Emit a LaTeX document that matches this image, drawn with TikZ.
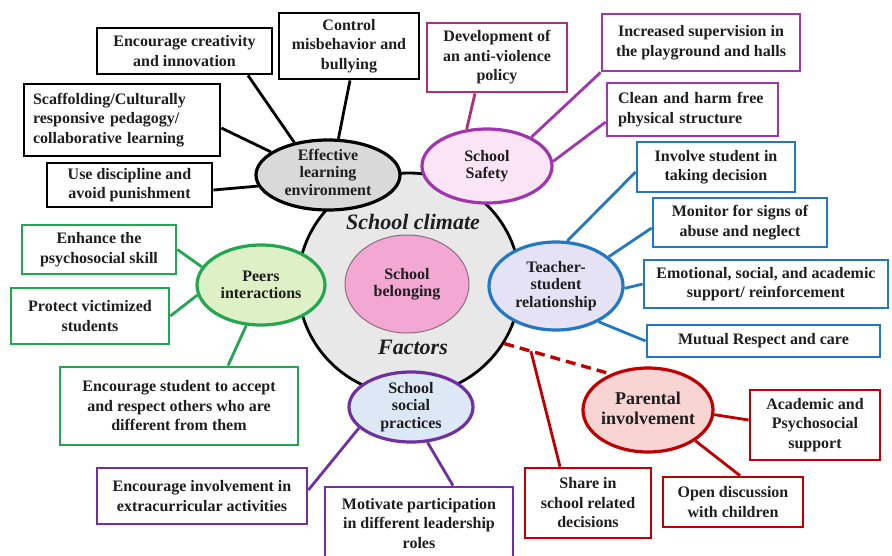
\documentclass[tikz,border=0pt]{standalone}
\usepackage{fontspec}
\setmainfont{Liberation Serif}
\usetikzlibrary{calc,shapes.geometric}

\definecolor{txt}{HTML}{1E1E1E}
\definecolor{climfill}{HTML}{E8E8E8}
\definecolor{belfill}{HTML}{F2A8D3}
\definecolor{beldraw}{HTML}{8C6C80}
\definecolor{elefill}{HTML}{D9D9D9}
\definecolor{safdraw}{HTML}{A035B0}
\definecolor{saffill}{HTML}{FBE4F6}
\definecolor{devdraw}{HTML}{B02E78}
\definecolor{tsrdraw}{HTML}{2378C3}
\definecolor{tsrfill}{HTML}{E5E2F6}
\definecolor{peerdraw}{HTML}{22A650}
\definecolor{peerfill}{HTML}{DDF0C6}
\definecolor{sspdraw}{HTML}{7030A0}
\definecolor{sspfill}{HTML}{DCE8F6}
\definecolor{pardraw}{HTML}{C00000}
\definecolor{parfill}{HTML}{F8D5D2}

\tikzset{
  box/.style={draw, line width=2.8pt, fill=white, align=center, inner sep=2pt,
    text=txt, font=\bfseries\fontsize{16}{19.5}\selectfont},
  oval/.style={ellipse, line width=3.2pt, inner sep=0pt},
  ovaltext/.style={align=center, inner sep=0pt, text=txt,
    font=\bfseries\fontsize{16}{17.5}\selectfont},
  link/.style={line width=2.8pt},
  climtext/.style={inner sep=0pt, text=txt,
    font=\bfseries\itshape\fontsize{22}{24}\selectfont},
}

\begin{document}
\begin{tikzpicture}[x=1pt,y=-1pt]
\useasboundingbox (0,0) rectangle (892,555);

% central school-climate disc and its core
\node[circle, draw=black, line width=2.8pt, fill=climfill, minimum size=222, inner sep=0pt] (circ) at (409,284) {};
\node[oval, draw=beldraw, line width=1pt, fill=belfill, minimum width=124, minimum height=98] (bel) at (407,284) {};
\node[ovaltext] (bel-t) at (bel) {School\\belonging};
\node[climtext] (clim) at (413,222) {School climate};
\node[climtext] (fact) at (413,347) {Factors};

% factor ellipses
\node[oval, draw=black, fill=elefill, minimum width=144, minimum height=70] (ele) at (328,175) {};
\node[oval, draw=safdraw, fill=saffill, minimum width=130, minimum height=74] (saf) at (487,166) {};
\node[oval, draw=tsrdraw, fill=tsrfill, minimum width=134, minimum height=88] (tsr) at (556,286) {};
\node[oval, draw=peerdraw, fill=peerfill, minimum width=128, minimum height=80] (peer) at (261,285) {};
\node[oval, draw=sspdraw, fill=sspfill, minimum width=124, minimum height=70] (ssp) at (411,407) {};
\node[oval, draw=pardraw, fill=parfill, minimum width=130, minimum height=84] (par) at (648,410) {};

\node[ovaltext] (ele-t) at (328,172) {Effective\\learning\\environment};
\node[ovaltext] (saf-t) at (487,166) {School\\Safety};
\node[ovaltext] (tsr-t) at (556,286) {Teacher-\\student\\relationship};
\node[ovaltext] (peer-t) at (261,285) {Peers\\interactions};
\node[ovaltext] (ssp-t) at (411,407) {School\\social\\practices};
\node[ovaltext, font=\bfseries\fontsize{18}{20}\selectfont] (par-t) at (648,408) {Parental\\involvement};

% effective learning environment
\node[box, draw=black, minimum width=175, minimum height=46] (b1) at (184.5,51) {Encourage creativity\\and innovation};
\node[box, draw=black, minimum width=140, minimum height=66] (b2) at (349,46) {Control\\misbehavior and\\bullying};
\node[box, draw=black, align=left, inner xsep=9pt, text width=178, minimum height=72] (b3) at (122,120) {Scaffolding/Culturally\\responsive pedagogy/\\collaborative learning};
\node[box, draw=black, minimum width=165, minimum height=44] (b4) at (129.5,185) {Use discipline and\\avoid punishment};

% school safety
\node[box, draw=devdraw, minimum width=140, minimum height=69] (s1) at (497,57.5) {Development of\\an anti-violence\\policy};
\node[box, draw=safdraw, minimum width=198, minimum height=57] (s2) at (701,42.5) {Increased supervision in\\the playground and halls};
\node[box, draw=safdraw, align=left, inner xsep=11pt, text width=149, minimum height=53] (s3) at (692.5,109.5) {Clean and harm free\\physical structure};

% teacher-student relationship
\node[box, draw=tsrdraw, minimum width=158, minimum height=50] (t1) at (716,167) {Involve student in\\taking decision};
\node[box, draw=tsrdraw, minimum width=174, minimum height=49] (t2) at (740,222.5) {Monitor for signs of\\abuse and neglect};
\node[box, draw=tsrdraw, minimum width=244, minimum height=48] (t3) at (766,284) {Emotional, social, and academic\\support/ reinforcement};
\node[box, draw=tsrdraw, minimum width=233, minimum height=32] (t4) at (763.5,341) {Mutual Respect and care};

% peers interactions
\node[box, draw=peerdraw, minimum width=154, minimum height=49] (p1) at (99,249.5) {Enhance the\\psychosocial skill};
\node[box, draw=peerdraw, minimum width=158, minimum height=56] (p2) at (90,316) {Protect victimized\\students};
\node[box, draw=peerdraw, minimum width=238, minimum height=78] (p3) at (179,406) {Encourage student to accept\\and respect others who are\\different from them};

% school social practices
\node[box, draw=sspdraw, minimum width=210, minimum height=56] (c1) at (202,496) {Encourage involvement in\\extracurricular activities};
\node[box, draw=sspdraw, minimum width=188, minimum height=73] (c2) at (419,523.5) {Motivate participation\\in different leadership\\roles};

% parental involvement
\node[box, draw=pardraw, minimum width=130, minimum height=70] (r1) at (815,425) {Academic and\\Psychosocial\\support};
\node[box, draw=pardraw, minimum width=126, minimum height=70] (r2) at (588,503) {Share in\\school related\\decisions};
\node[box, draw=pardraw, minimum width=140, minimum height=50] (r3) at (733,502) {Open discussion\\with children};

% connectors
\draw[link, black] ([xshift=63.5pt]b1.south) -- (ele.136);
\draw[link, black] ([xshift=1pt]b2.south) -- (ele.74);
\draw[link, black] ([yshift=-8pt]b3.east) -- (ele.158);
\draw[link, black] ([yshift=-5pt]b4.east) -- (ele.189);

\draw[link, devdraw] ([xshift=-22pt]s1.south) -- (saf.119);
\draw[link, safdraw] (s2.south west) -- (saf.33);
\draw[link, safdraw] ([yshift=-12.5pt]s3.west) -- (saf.4);

\draw[link, tsrdraw] ([yshift=-5pt]t1.west) -- (tsr.76);
\draw[link, tsrdraw] ([yshift=-5.5pt]t2.west) -- (tsr.29);
\draw[link, tsrdraw] (t3.west) -- (tsr.-2);
\draw[link, tsrdraw] (t4.west) -- (tsr.-40);

\draw[link, peerdraw] (p1.east) -- (peer.163);
\draw[link, peerdraw] (p2.east) -- (peer.189);
\draw[link, peerdraw] ([xshift=49pt]p3.north) -- (peer.250);

\draw[link, sspdraw] ([yshift=6pt]c1.east) -- (ssp.202);
\draw[link, sspdraw] ([xshift=34pt]c2.north) -- (ssp.295);

\draw[link, pardraw] ([yshift=5pt]r1.west) -- (par.-4);
\draw[link, pardraw] ([xshift=7pt]r3.north) -- (par.-33);
\draw[pardraw, line width=3.4pt, dash pattern=on 10pt off 6pt] (circ.-32) -- (par.136);
\coordinate (dj) at ($(circ.-32)!0.25!(par.136)$);
\draw[link, pardraw] (dj) -- ([xshift=-28pt]r2.north);
\end{tikzpicture}
\end{document}
